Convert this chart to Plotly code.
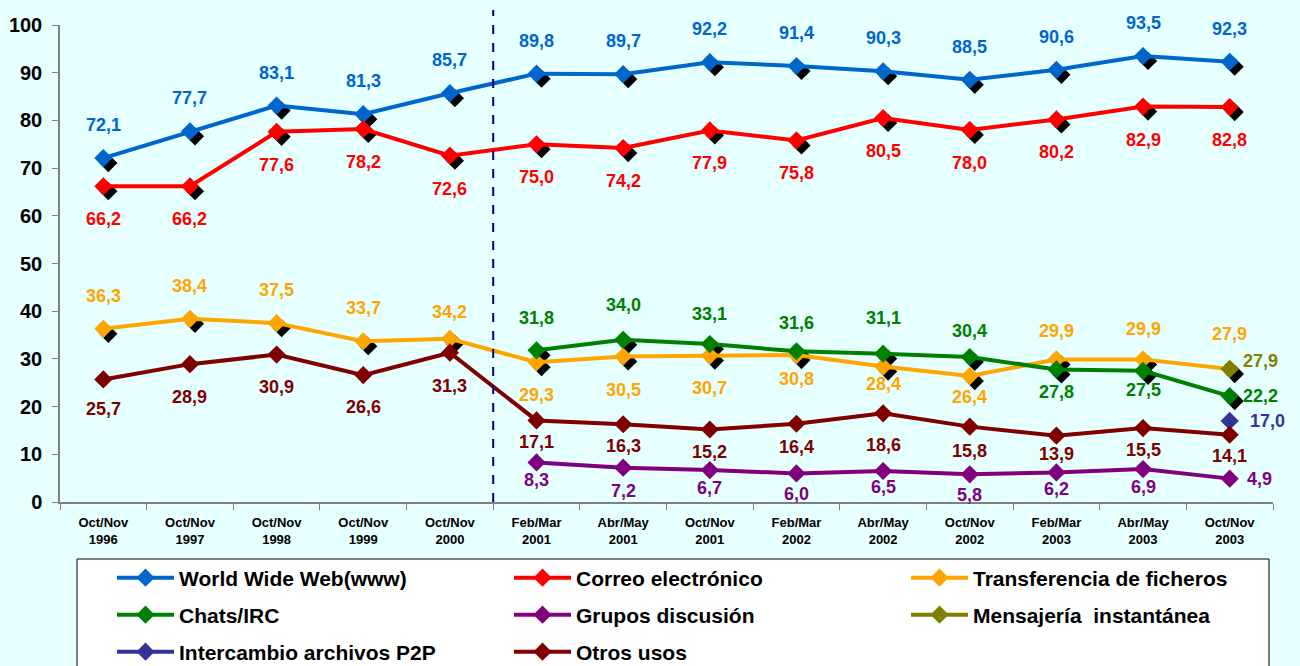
import plotly.graph_objects as go

# ---------------- data ----------------
categories = ["Oct/Nov<br>1996", "Oct/Nov<br>1997", "Oct/Nov<br>1998", "Oct/Nov<br>1999",
              "Oct/Nov<br>2000", "Feb/Mar<br>2001", "Abr/May<br>2001", "Oct/Nov<br>2001",
              "Feb/Mar<br>2002", "Abr/May<br>2002", "Oct/Nov<br>2002", "Feb/Mar<br>2003",
              "Abr/May<br>2003", "Oct/Nov<br>2003"]
www = [72.1, 77.7, 83.1, 81.3, 85.7, 89.8, 89.7, 92.2, 91.4, 90.3, 88.5, 90.6, 93.5, 92.3]
correo = [66.2, 66.2, 77.6, 78.2, 72.6, 75.0, 74.2, 77.9, 75.8, 80.5, 78.0, 80.2, 82.9, 82.8]
transferencia = [36.3, 38.4, 37.5, 33.7, 34.2, 29.3, 30.5, 30.7, 30.8, 28.4, 26.4, 29.9, 29.9, 27.9]
chats = [None, None, None, None, None, 31.8, 34.0, 33.1, 31.6, 31.1, 30.4, 27.8, 27.5, 22.2]
grupos = [None, None, None, None, None, 8.3, 7.2, 6.7, 6.0, 6.5, 5.8, 6.2, 6.9, 4.9]
mensajeria = [None] * 13 + [27.9]
p2p = [None] * 13 + [17.0]
otros = [25.7, 28.9, 30.9, 26.6, 31.3, 17.1, 16.3, 15.2, 16.4, 18.6, 15.8, 13.9, 15.5, 14.1]

# ---------------- label placement (pixel offsets, style only) ----------------
www_dy = [33] * 14
correo_dy = [-33] * 14
transf_dy = [33, 33, 33, 33, 27, -33, -33, -32, -24, -17, -21, 28, 30, 35]
chats_dy = [0, 0, 0, 0, 0, 32, 35, 30, 28, 36, 26, -23, -19, 0]
chats_dx = [0] * 13 + [31]
grupos_dy = [0, 0, 0, 0, 0, -18, -23, -18, -21, -16, -21, -17, -18, 0]
grupos_dx = [0] * 13 + [30]
mens_dy = [0] * 13 + [8]
mens_dx = [0] * 13 + [31]
p2p_dy = [0] * 14
p2p_dx = [0] * 13 + [38]
otros_dy = [-30, -33, -32, -32, -33, -22, -22, -22, -23, -32, -24, -18, -22, -21]
zero_dx = [0] * 14

# legend slot (column, row) for each series
series = [
    # name, values, color, shadow, dy, dx, (col,row)
    ("World Wide Web(www)", www, "#0066CC", True, www_dy, zero_dx, (0, 0)),
    ("Correo electrónico", correo, "#FF0000", True, correo_dy, zero_dx, (1, 0)),
    ("Transferencia de ficheros", transferencia, "#FFA500", True, transf_dy, zero_dx, (2, 0)),
    ("Chats/IRC", chats, "#008000", True, chats_dy, chats_dx, (0, 1)),
    ("Grupos discusión", grupos, "#800080", False, grupos_dy, grupos_dx, (1, 1)),
    ("Mensajería\u00a0 instantánea", mensajeria, "#808000", True, mens_dy, mens_dx, (2, 1)),
    ("Intercambio archivos P2P", p2p, "#333399", False, p2p_dy, p2p_dx, (0, 2)),
    ("Otros usos", otros, "#800000", False, otros_dy, zero_dx, (1, 2)),
]

W, H = 1300, 666
ML, MR, MT, MB = 60, 22, 25, 159
PW, PH = W - ML - MR, H - MT - MB
SH = 5  # shadow offset in px
ex, ey = SH / PW, SH / PH
BG = "#E6FFFF"
FONT = "Arial, Liberation Sans, sans-serif"

fig = go.Figure()

# shadows (drawn first, on a subplot shifted by a few pixels)
for name, vals, color, shadow, dy, dx, slot in series:
    if shadow:
        fig.add_trace(go.Scatter(
            x=categories, y=vals, mode="markers", xaxis="x", yaxis="y",
            marker=dict(symbol="diamond", size=14, color="black"),
            showlegend=False, hoverinfo="skip"))

# main series, one legend per entry so each can be placed in the grid
legends = {}
COL_X = [112, 509, 906]
ROW_Y = [578, 615, 652]
for k, (name, vals, color, shadow, dy, dx, slot) in enumerate(series):
    lid = "legend" if k == 0 else f"legend{k + 1}"
    fig.add_trace(go.Scatter(
        x=categories, y=vals, mode="lines+markers", name=name,
        xaxis="x2", yaxis="y2", legend=lid,
        line=dict(color=color, width=4),
        marker=dict(symbol="diamond", size=14, color=color),
        connectgaps=False))
    col, row = slot
    legends[lid] = dict(
        orientation="h", bgcolor="rgba(0,0,0,0)", borderwidth=0,
        font=dict(family=FONT, size=21, color="black", weight="bold"),
        itemwidth=57, xanchor="left", yanchor="middle",
        x=(COL_X[col] - ML) / PW, y=(MT + PH - ROW_Y[row]) / PH,
        itemclick=False, itemdoubleclick=False)

# data labels
annotations = []
for name, vals, color, shadow, dy, dx, slot in series:
    for i, v in enumerate(vals):
        if v is None:
            continue
        annotations.append(dict(
            x=i, y=v, xref="x2", yref="y2", showarrow=False,
            text=f"{v:.1f}".replace(".", ","),
            xanchor="center", yanchor="middle",
            xshift=dx[i], yshift=dy[i],
            font=dict(family=FONT, size=18, color=color, weight="bold")))

shapes = [
    # legend box
    dict(type="rect", xref="paper", yref="paper",
         x0=(77 - ML) / PW, x1=(1269 - ML) / PW,
         y0=-0.6, y1=(MT + PH - 559) / PH,
         fillcolor="white", line=dict(color="black", width=1), layer="below"),
    # dashed separator between Oct/Nov 2000 and Feb/Mar 2001
    dict(type="line", xref="x2", yref="paper", x0=4.5, x1=4.5,
         y0=ey, y1=(MT + PH - 10) / PH,
         line=dict(color="#000080", width=2, dash="dash")),
]

fig.update_layout(
    width=W, height=H,
    margin=dict(l=ML, r=MR, t=MT, b=MB, autoexpand=False),
    paper_bgcolor=BG, plot_bgcolor="rgba(0,0,0,0)",
    showlegend=True,
    xaxis=dict(domain=[ex, 1], range=[-0.5, 13.5], type="category",
               categoryorder="array", categoryarray=categories,
               visible=False, anchor="y"),
    yaxis=dict(domain=[0, 1 - ey], range=[0, 100], visible=False, anchor="x"),
    xaxis2=dict(domain=[0, 1 - ex], range=[-0.5, 13.5], type="category",
                categoryorder="array", categoryarray=categories,
                anchor="y2", tickson="boundaries", ticks="outside", ticklen=6,
                tickcolor="#808080", showline=True, linecolor="#808080", linewidth=1.5,
                showgrid=False, zeroline=False, ticklabelstandoff=8,
                tickfont=dict(family=FONT, size=13, color="black", weight="bold")),
    yaxis2=dict(domain=[ey, 1], range=[0, 100], dtick=10, anchor="x2",
                ticks="outside", ticklen=6, tickcolor="#808080",
                showline=True, linecolor="#808080", linewidth=1.5,
                showgrid=False, zeroline=False, ticklabelstandoff=6,
                tickfont=dict(family=FONT, size=20, color="black", weight="bold")),
    annotations=annotations,
    shapes=shapes,
    **legends,
)

fig.write_html(
    "out.html",
    config={"displayModeBar": False},
    post_script="document.body.style.margin='0';document.body.style.overflow='hidden';"
                "document.body.style.background='" + BG + "';",
)
